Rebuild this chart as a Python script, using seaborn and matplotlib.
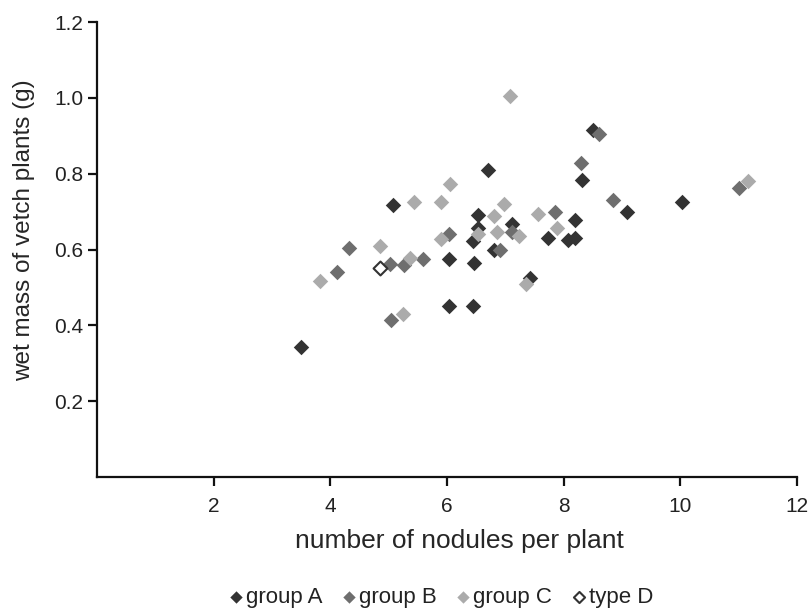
import matplotlib
matplotlib.use("Agg")
import matplotlib.pyplot as plt
import pandas as pd
import seaborn as sns

# number of nodules per plant (x) and wet mass in g (y)
a_nodules = [3.49, 5.07, 6.70, 6.54, 6.53, 6.44, 7.12, 6.81, 6.03, 6.47, 7.42,
             6.03, 6.44, 7.74, 8.07, 8.19, 8.19, 8.32, 8.51, 9.08, 10.03]
a_mass = [0.344, 0.718, 0.811, 0.690, 0.656, 0.623, 0.668, 0.600, 0.574, 0.565, 0.526,
          0.450, 0.450, 0.630, 0.624, 0.630, 0.677, 0.783, 0.915, 0.698, 0.725]

b_nodules = [4.12, 4.32, 5.03, 5.04, 5.26, 5.59, 6.03, 6.91, 7.12, 7.85, 8.29,
             8.60, 8.85, 11.01]
b_mass = [0.540, 0.603, 0.563, 0.415, 0.558, 0.576, 0.642, 0.600, 0.645, 0.698, 0.828,
          0.905, 0.730, 0.762]

c_nodules = [3.83, 4.85, 5.25, 5.37, 5.44, 5.89, 6.05, 5.90, 7.08, 6.98, 6.81,
             6.54, 6.85, 7.24, 7.35, 7.56, 7.88, 11.16]
c_mass = [0.516, 0.608, 0.429, 0.577, 0.726, 0.726, 0.773, 0.627, 1.005, 0.720, 0.689,
          0.640, 0.645, 0.636, 0.508, 0.693, 0.656, 0.780]

d_nodules = [4.85]
d_mass = [0.550]

group_names = ["group A", "group B", "group C"]
group_colors = ["#333333", "#6e6e6e", "#ababab"]
x_ticks = [2, 4, 6, 8, 10, 12]
y_ticks = [0.2, 0.4, 0.6, 0.8, 1.0, 1.2]

sns.set_style("ticks")
plt.rcParams["font.family"] = ["Liberation Sans", "DejaVu Sans"]
plt.rcParams["text.color"] = "#222222"

fig = plt.figure(figsize=(8.08, 6.10), dpi=100)
ax = fig.add_axes([0.120, 0.218, 0.8663, 0.7459])

groups = [(a_nodules, a_mass), (b_nodules, b_mass), (c_nodules, c_mass)]
for (xs, ys), name, col in zip(groups, group_names, group_colors):
    df = pd.DataFrame({"nodules": xs, "mass": ys})
    sns.scatterplot(data=df, x="nodules", y="mass", ax=ax, marker="D", s=62,
                    color=col, linewidth=0, label=name)

df_d = pd.DataFrame({"nodules": d_nodules, "mass": d_mass})
sns.scatterplot(data=df_d, x="nodules", y="mass", ax=ax, marker="D", s=50,
                facecolor="white", edgecolor="#333333", linewidth=1.5, label="type D")

ax.set_xlim(0, 12)
ax.set_ylim(0, 1.2)
ax.set_xticks(x_ticks)
ax.set_yticks(y_ticks)
ax.set_yticklabels([f"{v:.1f}" for v in y_ticks])
sns.despine(ax=ax)
for s in ["left", "bottom"]:
    ax.spines[s].set_linewidth(1.6)
    ax.spines[s].set_color("#111111")
ax.tick_params(direction="out", length=6.5, width=1.6, labelsize=15,
               labelcolor="#222222", color="#111111")
ax.tick_params(axis="x", pad=8)

ax.set_xlabel("number of nodules per plant", fontsize=19)
ax.xaxis.set_label_coords(0.518, -0.115)
ax.set_ylabel("wet mass of vetch plants (g)", fontsize=17.5)
ax.yaxis.set_label_coords(-0.088, 0.543)

ax.get_legend().remove()
h, l = ax.get_legend_handles_labels()
fig.legend(h, l, loc="center", bbox_to_anchor=(0.546, 0.02), ncol=4, frameon=False,
           fontsize=16, handlelength=0.6, handletextpad=0.15, columnspacing=0.9,
           markerscale=0.8, borderaxespad=0)

plt.savefig("out.png", dpi=100)
plt.close()
